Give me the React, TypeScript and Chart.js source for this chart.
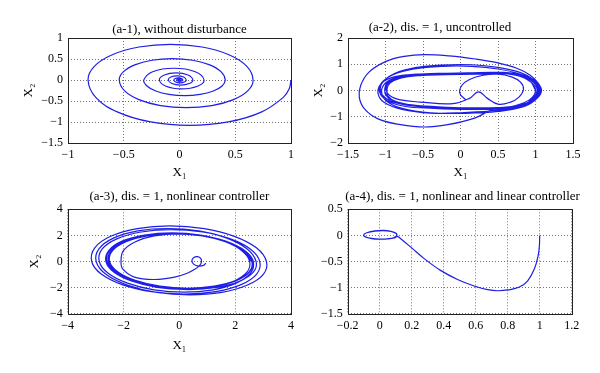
import React, { useEffect, useRef } from "react";
import { Chart, registerables } from "chart.js";

Chart.register(...registerables);

type Pt = [number, number];

const FONT = "'Liberation Serif', 'Times New Roman', Times, serif";
const BLUE = "rgb(30,30,230)";

// ---------- tick labels ----------
const a1XTicks = [-1, -0.5, 0, 0.5, 1];
const a1YTicks = [-1.5, -1, -0.5, 0, 0.5, 1];
const a2XTicks = [-1.5, -1, -0.5, 0, 0.5, 1, 1.5];
const a2YTicks = [-2, -1, 0, 1, 2];
const a3XTicks = [-4, -2, 0, 2, 4];
const a3YTicks = [-4, -2, 0, 2, 4];
const a4XTicks = [-0.2, 0, 0.2, 0.4, 0.6, 0.8, 1, 1.2];
const a4YTicks = [-1.5, -1, -0.5, 0, 0.5];

// ---------- titles ----------
const panelTitles = [
  "(a-1), without disturbance",
  "(a-2), dis. = 1, uncontrolled",
  "(a-3), dis. = 1, nonlinear controller",
  "(a-4), dis. = 1, nonlinear and linear controller",
];
const xAxisTitle = "X\u2081";
const yAxisTitle = "X\u2082";

// ---------- trajectories (x1, x2) ----------
const a1Trajectory: Pt[] = [
  [1, 0], [0.985, -0.2],
  [0.931, -0.413], [0.733, -0.764], [0.438, -0.998], [0.09, -1.08], [-0.258, -0.998], [-0.553, -0.764], [-0.751, -0.413], [-0.82, 0],
  [-0.764, 0.325], [-0.603, 0.601], [-0.363, 0.785], [-0.08, 0.85], [0.203, 0.785], [0.443, 0.601], [0.604, 0.325], [0.66, 0],
  [0.614, -0.253], [0.484, -0.467], [0.29, -0.61], [0.06, -0.66], [-0.17, -0.61], [-0.364, -0.467], [-0.494, -0.253], [-0.54, 0],
  [-0.504, 0.195], [-0.401, 0.361], [-0.247, 0.471], [-0.065, 0.51], [0.117, 0.471], [0.271, 0.361], [0.374, 0.195], [0.41, 0],
  [0.382, -0.142], [0.303, -0.262], [0.185, -0.342], [0.045, -0.37], [-0.095, -0.342], [-0.213, -0.262], [-0.292, -0.142], [-0.32, 0],
  [-0.241, 0.198], [-0.05, 0.28], [0.141, 0.198], [0.22, 0],
  [0.161, -0.148], [0.02, -0.21], [-0.121, -0.148], [-0.18, 0],
  [-0.136, 0.12], [-0.03, 0.17], [0.076, 0.12], [0.12, 0],
  [0.088, -0.085], [0.01, -0.12], [-0.068, -0.085], [-0.1, 0],
  [-0.077, 0.071], [-0.02, 0.1], [0.037, 0.071], [0.06, 0],
  [0.044, -0.049], [0.005, -0.07], [-0.034, -0.049], [-0.05, 0],
  [-0.038, 0.035], [-0.01, 0.05], [0.018, 0.035], [0.03, 0],
  [0.022, -0.025], [0.003, -0.035], [-0.016, -0.025], [-0.025, 0],
  [-0.02, 0.018], [-0.005, 0.025], [0.01, 0.018], [0.015, 0],
  [0.008, -0.012], [-0.004, -0.012], [-0.008, 0], [0, 0.006], [0, 0],
];

const a2Trajectory: Pt[] = [
  [0.07, -0.36], [-0.01, -0.1], [0.02, 0.2], [0.12, 0.42], [0.3, 0.58], [0.5, 0.62],
  [0.68, 0.52], [0.8, 0.32], [0.84, 0.05], [0.78, -0.25], [0.66, -0.45], [0.5, -0.52],
  [0.36, -0.3], [0.24, -0.05],
  [0.12, -0.3], [-0.1, -0.5], [-0.54, -0.44], [-0.8, -0.36], [-0.94, -0.2], [-0.99, 0.05],
  [-0.95, 0.3], [-0.8, 0.5], [-0.55, 0.6], [-0.2, 0.63], [0.2, 0.65], [0.55, 0.67],
  [0.82, 0.56], [0.97, 0.32], [1.03, 0.03], [0.97, -0.3], [0.82, -0.55], [0.5, -0.65],
  [0.1, -0.66], [-0.3, -0.62], [-0.65, -0.55], [-0.88, -0.4], [-0.99, -0.18], [-1.01, 0.06],
  [-0.97, 0.32], [-0.82, 0.52], [-0.55, 0.62], [-0.2, 0.65], [0.2, 0.67], [0.55, 0.69],
  [0.84, 0.58], [0.99, 0.33], [1.05, 0.02], [0.99, -0.3], [0.84, -0.57], [0.5, -0.68],
  [0.1, -0.69], [-0.3, -0.66], [-0.67, -0.58], [-0.92, -0.42], [-1.04, -0.18], [-1.07, 0.08],
  [-1.02, 0.38], [-0.88, 0.65], [-0.6, 0.87], [-0.25, 0.97], [0.15, 0.98], [0.5, 0.88],
  [0.8, 0.68], [0.98, 0.4], [1.07, 0.05], [1.02, -0.3], [0.85, -0.6], [0.5, -0.76],
  [0.05, -0.84], [-0.4, -0.86], [-0.78, -0.72], [-1.02, -0.45], [-1.1, -0.1],
  [-1.06, 0.25], [-0.93, 0.48], [-0.7, 0.6], [-0.35, 0.64], [0.1, 0.66], [0.5, 0.68],
  [0.8, 0.6], [0.97, 0.36], [1.04, 0.05], [0.98, -0.3], [0.82, -0.56], [0.5, -0.66],
  [0.1, -0.68], [-0.3, -0.65], [-0.66, -0.57], [-0.9, -0.4], [-1.0, -0.15], [-1.0, 0.1],
  [-0.95, 0.33], [-0.8, 0.5], [-0.55, 0.58], [-0.2, 0.61], [0.2, 0.63], [0.55, 0.64],
  [0.8, 0.54], [0.95, 0.3], [1.0, 0.02], [0.95, -0.28], [0.8, -0.52], [0.6, -0.66],
  [0.41, -0.75], [0.19, -1.05], [-0.17, -1.3], [-0.48, -1.39], [-0.8, -1.3], [-1.1, -1.08],
  [-1.28, -0.7], [-1.35, -0.25], [-1.33, 0.2], [-1.22, 0.7], [-1.0, 1.1], [-0.75, 1.3],
  [-0.48, 1.37], [-0.15, 1.32], [0.2, 1.2], [0.5, 1.05], [0.75, 0.85], [0.92, 0.6],
  [1.03, 0.3], [1.08, 0.0], [1.02, -0.3], [0.86, -0.57], [0.55, -0.7], [0.1, -0.72],
  [-0.35, -0.68], [-0.75, -0.6], [-0.98, -0.38], [-1.08, -0.05], [-1.05, 0.3], [-0.9, 0.6],
  [-0.62, 0.82], [-0.25, 0.92], [0.15, 0.92], [0.5, 0.82], [0.8, 0.62], [0.98, 0.36],
  [1.06, 0.03], [1.0, -0.32], [0.84, -0.62], [0.5, -0.8], [0.05, -0.87], [-0.4, -0.85],
  [-0.78, -0.68], [-0.98, -0.42], [-1.05, -0.1], [-1.02, 0.22], [-0.9, 0.45], [-0.65, 0.6],
  [-0.3, 0.65], [0.1, 0.67], [0.5, 0.69], [0.8, 0.6], [0.96, 0.35], [1.02, 0.04],
  [0.97, -0.28], [0.83, -0.54], [0.55, -0.65], [0.15, -0.67], [-0.25, -0.64], [-0.6, -0.57],
  [-0.86, -0.42], [-0.97, -0.2], [-0.98, 0.05], [-0.94, 0.28], [-0.8, 0.47], [-0.55, 0.57],
  [-0.2, 0.6], [0.2, 0.62], [0.55, 0.64], [0.8, 0.55], [0.94, 0.32], [0.99, 0.05],
];

const a3Trajectory: Pt[] = [
  [0.95, -0.12], [0.86, -0.3], [0.7, -0.35], [0.52, -0.22], [0.45, 0.05], [0.52, 0.3],
  [0.65, 0.37], [0.77, 0.22], [0.79, -0.05], [0.72, -0.32], [0.55, -0.6], [0.3, -0.88],
  [-0.17, -1.2], [-0.89, -1.38], [-1.61, -1.2], [-2.03, -0.57], [-2.09, 0],
  [-2.01, 0.81], [-1.59, 1.5], [-0.9, 1.96], [-0.04, 2.12], [0.86, 1.96], [1.67, 1.5], [2.25, 0.81], [2.52, 0],
  [2.42, -0.82], [1.95, -1.51], [1.17, -1.98], [0.2, -2.14], [-0.8, -1.98], [-1.69, -1.51], [-2.34, -0.82], [-2.63, 0],
  [-2.53, 0.84], [-2.05, 1.56], [-1.25, 2.03], [-0.27, 2.2], [0.76, 2.03], [1.66, 1.56], [2.32, 0.84], [2.62, 0],
  [2.52, -0.8], [2.04, -1.48], [1.26, -1.94], [0.29, -2.1], [-0.72, -1.94], [-1.62, -1.48], [-2.26, -0.8], [-2.55, 0],
  [-2.45, 0.82], [-1.98, 1.52], [-1.2, 1.99], [-0.23, 2.15], [0.77, 1.99], [1.66, 1.52], [2.31, 0.82], [2.6, 0],
  [2.5, -0.79], [2.03, -1.45], [1.25, -1.89], [0.3, -2.05], [-0.7, -1.89], [-1.58, -1.45], [-2.21, -0.79], [-2.5, 0],
  [-2.4, 0.81], [-1.93, 1.5], [-1.15, 1.96], [-0.18, 2.12], [0.83, 1.96], [1.72, 1.5], [2.36, 0.81], [2.65, 0],
  [2.55, -0.9], [2.04, -1.66], [1.21, -2.17], [0.17, -2.35], [-0.91, -2.17], [-1.86, -1.66], [-2.55, -0.9], [-2.87, 0],
  [-2.77, 0.94], [-2.24, 1.73], [-1.37, 2.26], [-0.29, 2.45], [0.83, 2.26], [1.83, 1.73], [2.55, 0.94], [2.88, 0],
  [2.77, -0.96], [2.21, -1.77], [1.3, -2.31], [0.17, -2.5], [-1.01, -2.31], [-2.05, -1.77], [-2.8, -0.96], [-3.14, 0],
  [-3.03, 1.05], [-2.46, 1.93], [-1.51, 2.52], [-0.34, 2.73], [0.89, 2.52], [1.97, 1.93], [2.76, 1.05], [3.12, 0],
  [3.01, -0.98], [2.44, -1.8], [1.52, -2.36], [0.38, -2.55], [-0.82, -2.36], [-1.87, -1.8], [-2.63, -0.98], [-2.98, 0],
  [-2.88, 0.97], [-2.36, 1.79], [-1.49, 2.34], [-0.42, 2.53], [0.7, 2.34], [1.7, 1.79], [2.42, 0.97], [2.75, 0],
  [2.65, -0.82], [2.15, -1.52], [1.34, -1.99], [0.33, -2.15], [-0.71, -1.99], [-1.63, -1.52], [-2.3, -0.82], [-2.6, 0],
  [-2.5, 0.83], [-2.02, 1.54], [-1.24, 2.01], [-0.26, 2.18], [0.75, 2.01], [1.65, 1.54], [2.3, 0.83], [2.6, 0],
  [2.5, -0.8], [2.03, -1.47], [1.25, -1.92], [0.29, -2.08], [-0.71, -1.92], [-1.59, -1.47], [-2.23, -0.8], [-2.52, 0],
  [-2.42, 0.82], [-1.95, 1.51], [-1.18, 1.98], [-0.23, 2.14], [0.77, 1.98], [1.65, 1.51], [2.29, 0.82], [2.58, 0],
];

const a4Trajectory: Pt[] = [
  [1, 0], [0.998, -0.2], [0.99, -0.39], [0.967, -0.64], [0.925, -0.87], [0.873, -0.99],
  [0.8, -1.045], [0.74, -1.06], [0.675, -1.04], [0.59, -0.97], [0.49, -0.85], [0.38, -0.67],
  [0.28, -0.45], [0.196, -0.23], [0.133, -0.07], [0.11, -0.02], [0.09, -0.05], [0.05, -0.068],
  [0, -0.072], [-0.05, -0.06], [-0.09, -0.03], [-0.1, 0.01], [-0.08, 0.05], [-0.03, 0.085],
  [0.02, 0.095], [0.07, 0.08], [0.1, 0.045], [0.108, 0.01], [0.09, -0.04], [0.05, -0.065],
  [0, -0.07], [-0.05, -0.058], [-0.09, -0.025], [-0.1, 0.012], [-0.08, 0.05], [-0.03, 0.083],
  [0.02, 0.092], [0.07, 0.078], [0.1, 0.043], [0.108, 0.01],
];

// ---------- helpers ----------
const fmtTick = (v: number | string) => String(v).replace("-", "\u2212");

const framePlugin = {
  id: "frameBox",
  afterDraw(chart: any) {
    const { ctx, chartArea: a } = chart;
    const l = Math.round(a.left), t = Math.round(a.top);
    const r = Math.round(a.right), b = Math.round(a.bottom);
    ctx.save();
    ctx.setLineDash([]);
    ctx.strokeStyle = "#222";
    ctx.lineWidth = 1;
    ctx.strokeRect(l + 0.5, t + 0.5, r - l, b - t);
    ctx.restore();
  },
};

type PanelSpec = {
  left: number; top: number; w: number; h: number;
  data: Pt[]; xTicks: number[]; yTicks: number[]; title: string;
  axisTitles: boolean;
  pad: { left: number; right: number; top: number; bottom: number };
  yWidth: number; y2Width: number; xHeight: number;
  titleFull: boolean; titlePad: { top: number; bottom: number };
  xTitlePadBottom: number; yTitlePadTop: number;
};

const panels: PanelSpec[] = [
  {
    left: 0, top: 0, w: 300, h: 186, data: a1Trajectory, xTicks: a1XTicks, yTicks: a1YTicks,
    title: panelTitles[0], axisTitles: true,
    pad: { left: 0, right: 9, top: 0, bottom: 3 }, yWidth: 68, y2Width: 0, xHeight: 40,
    titleFull: false, titlePad: { top: 21.4, bottom: 1.0 }, xTitlePadBottom: 2.2, yTitlePadTop: 21.2,
  },
  {
    left: 300, top: 0, w: 300, h: 186, data: a2Trajectory, xTicks: a2XTicks, yTicks: a2YTicks,
    title: panelTitles[1], axisTitles: true,
    pad: { left: 0, right: 20, top: 0, bottom: 3 }, yWidth: 48, y2Width: 7, xHeight: 40,
    titleFull: true, titlePad: { top: 20.0, bottom: 2.4 }, xTitlePadBottom: 2.2, yTitlePadTop: 10.5,
  },
  {
    left: 0, top: 186, w: 300, h: 187, data: a3Trajectory, xTicks: a3XTicks, yTicks: a3YTicks,
    title: panelTitles[2], axisTitles: true,
    pad: { left: 0, right: 9, top: 0, bottom: 0 }, yWidth: 67.7, y2Width: 0, xHeight: 59.3,
    titleFull: false, titlePad: { top: 2.8, bottom: 4.9 }, xTitlePadBottom: 19.2, yTitlePadTop: 26.7,
  },
  {
    left: 280, top: 186, w: 365, h: 187, data: a4Trajectory, xTicks: a4XTicks, yTicks: a4YTicks,
    title: panelTitles[3], axisTitles: false,
    pad: { left: 0, right: 0, top: 0, bottom: 0 }, yWidth: 67.7, y2Width: 73.3, xHeight: 59.3,
    titleFull: true, titlePad: { top: 2.8, bottom: 4.9 }, xTitlePadBottom: 0, yTitlePadTop: 0,
  },
];

function Panel({ spec }: { spec: PanelSpec }) {
  const ref = useRef<HTMLCanvasElement | null>(null);

  useEffect(() => {
    if (!ref.current) return;
    const gridCommon = {
      color: "rgba(80,80,80,0.8)",
      lineWidth: 1,
      drawTicks: false,
    };
    const tickFont = { family: FONT, size: 12 };
    const scales: any = {
      x: {
        type: "linear",
        position: "bottom",
        min: spec.xTicks[0],
        max: spec.xTicks[spec.xTicks.length - 1],
        afterBuildTicks: (s: any) => {
          s.ticks = spec.xTicks.map((v) => ({ value: v }));
        },
        afterFit: (s: any) => {
          s.height = spec.xHeight;
        },
        grid: gridCommon,
        border: { display: false, dash: [1, 2] },
        ticks: {
          autoSkip: false, maxRotation: 0, padding: 5, color: "#000", font: tickFont,
          callback: (v: any) => fmtTick(v),
        },
        title: {
          display: spec.axisTitles, text: xAxisTitle, color: "#000",
          font: { family: FONT, size: 13 }, padding: { top: 0, bottom: spec.xTitlePadBottom },
        },
      },
      y: {
        type: "linear",
        position: "left",
        min: spec.yTicks[0],
        max: spec.yTicks[spec.yTicks.length - 1],
        afterBuildTicks: (s: any) => {
          s.ticks = spec.yTicks.map((v) => ({ value: v }));
        },
        afterFit: (s: any) => {
          s.width = spec.yWidth;
        },
        grid: gridCommon,
        border: { display: false, dash: [1, 2] },
        ticks: {
          autoSkip: false, padding: 5, color: "#000", font: tickFont,
          callback: (v: any) => fmtTick(v),
        },
        title: {
          display: spec.axisTitles, text: yAxisTitle, color: "#000",
          font: { family: FONT, size: 13 }, padding: { top: spec.yTitlePadTop, bottom: 0 },
        },
      },
    };
    if (spec.y2Width > 0) {
      scales.y2 = {
        type: "linear",
        position: "right",
        display: true,
        grid: { display: false },
        border: { display: false },
        ticks: { display: false },
        afterFit: (s: any) => {
          s.width = spec.y2Width;
        },
      };
    }

    const chart = new Chart(ref.current, {
      type: "scatter",
      data: {
        datasets: [
          {
            data: spec.data.map(([x, y]) => ({ x, y })),
            showLine: true,
            pointRadius: 0,
            pointHoverRadius: 0,
            borderColor: BLUE,
            borderWidth: 1.2,
            tension: 0.4,
            fill: false,
          } as any,
        ],
      },
      options: {
        responsive: false,
        animation: false,
        events: [],
        layout: { padding: spec.pad },
        scales,
        plugins: {
          legend: { display: false },
          tooltip: { enabled: false },
          title: {
            display: true,
            text: spec.title,
            color: "#000",
            fullSize: spec.titleFull,
            font: { family: FONT, size: 13, weight: "normal" as any },
            padding: spec.titlePad,
          },
        },
      } as any,
      plugins: [framePlugin],
    });
    return () => chart.destroy();
  }, [spec]);

  return (
    <canvas
      ref={ref}
      width={spec.w}
      height={spec.h}
      style={{
        position: "absolute",
        left: spec.left,
        top: spec.top,
        width: spec.w,
        height: spec.h,
      }}
    />
  );
}

export default function App() {
  return (
    <div
      style={{
        position: "absolute",
        left: 0,
        top: 0,
        width: 600,
        height: 373,
        background: "#fff",
        overflow: "hidden",
      }}
    >
      {panels.map((p, i) => (
        <Panel key={i} spec={p} />
      ))}
    </div>
  );
}
